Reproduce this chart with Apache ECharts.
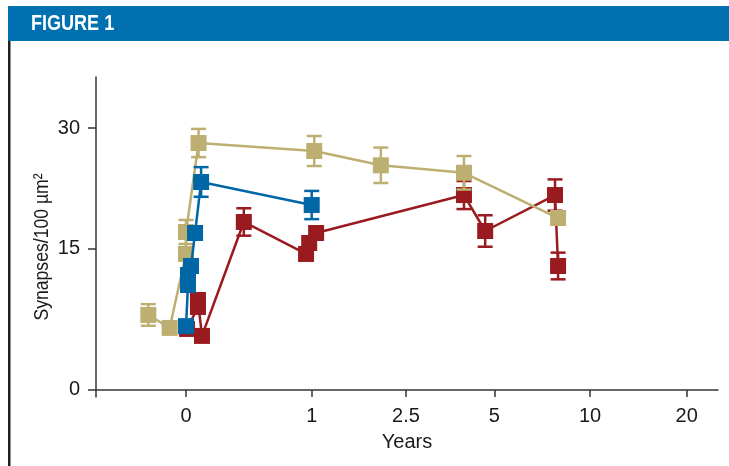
<!DOCTYPE html>
<html>
<head>
<meta charset="utf-8">
<script src="https://cdn.jsdelivr.net/npm/echarts@6/dist/echarts.min.js"></script>
<style>
html,body{margin:0;padding:0;background:#fff;}
#chart{width:729px;height:466px;}
</style>
</head>
<body>
<div id="chart"></div>
<script>
// axis scales: the figure's axes are not linear, so ticks are pinned to positions
var xTickYears = [0, 1, 2.5, 5, 10, 20];
var xTickPos = [0, 1, 1.75, 2.453, 3.214, 3.983];
var yTickVals = [0, 15, 30];
var yTickPos = [0, 1, 1.858];

// tan series
var tanYears = [-0.3, -0.13, 0, 0, 0.1, 1.04, 2.1, 4.14, 8.33];
var tanVals = [7.98, 6.6, 14.47, 17.11, 28.14, 27.15, 25.38, 24.45, 18.84];
var tanErr = [1.15, 0, 0, 1.49, 1.75, 1.86, 2.2, 2.08, 0];

// blue series
var blueYears = [0, 0.016, 0.016, 0.04, 0.072, 0.12, 1.0];
var blueVals = [6.79, 11.17, 12.23, 13.19, 16.98, 23.31, 20.45];
var blueErr = [0, 0, 0, 0, 0, 1.84, 1.75];

// red series
var redYears = [0.008, 0.095, 0.095, 0.127, 0.46, 0.955, 0.98, 1.07, 4.14, 4.74, 8.17, 8.33];
var redVals = [6.49, 8.83, 9.57, 5.75, 18.35, 14.47, 15.74, 16.98, 21.69, 17.23, 21.69, 13.19];
var redErr = [0, 0, 0, 0, 1.7, 0, 0, 0, 1.74, 1.95, 1.94, 1.42];

var tan = '#bdaf72', blue = '#0067a6', red = '#9a1b1f';

function scaleMap(v, ticks, pos) {
    var n = ticks.length, i = 0;
    if (v >= ticks[n - 1]) i = n - 2;
    else if (v > ticks[0]) { while (v > ticks[i + 1]) i++; }
    var t = (v - ticks[i]) / (ticks[i + 1] - ticks[i]);
    return pos[i] + t * (pos[i + 1] - pos[i]);
}
function xPos(v) { return scaleMap(v, xTickYears, xTickPos); }
function yPos(v) { return scaleMap(v, yTickVals, yTickPos); }

function lookup(v, pos, labels) {
    for (var i = 0; i < pos.length; i++) {
        if (Math.abs(pos[i] - v) < 1e-6) return String(labels[i]);
    }
    return '';
}

function points(xs, ys) {
    return xs.map(function (x, i) { return [xPos(x), yPos(ys[i])]; });
}
function errPoints(xs, ys, es) {
    var out = [];
    xs.forEach(function (x, i) {
        if (es[i] > 0) out.push([xPos(x), yPos(ys[i] - es[i]), yPos(ys[i] + es[i])]);
    });
    return out;
}

function errSeries(xs, ys, es, color, z) {
    return {
        type: 'custom',
        z: z,
        silent: true,
        data: errPoints(xs, ys, es),
        renderItem: function (params, api) {
            var lo = api.coord([api.value(0), api.value(1)]);
            var hi = api.coord([api.value(0), api.value(2)]);
            var w = 7.5;
            var st = { stroke: color, lineWidth: 2.5 };
            return {
                type: 'group',
                children: [
                    { type: 'line', shape: { x1: lo[0], y1: lo[1], x2: hi[0], y2: hi[1] }, style: st },
                    { type: 'line', shape: { x1: lo[0] - w, y1: lo[1], x2: lo[0] + w, y2: lo[1] }, style: st },
                    { type: 'line', shape: { x1: hi[0] - w, y1: hi[1], x2: hi[0] + w, y2: hi[1] }, style: st }
                ]
            };
        }
    };
}

function lineSeries(xs, ys, color, z) {
    return {
        type: 'line',
        z: z,
        data: points(xs, ys),
        symbol: 'rect',
        symbolSize: 16,
        showAllSymbol: true,
        lineStyle: { color: color, width: 2.5 },
        itemStyle: { color: color },
        emphasis: { disabled: true }
    };
}

var labelFont = '"Liberation Sans Narrow", "Arial Narrow", "Liberation Sans", sans-serif';

var chart = echarts.init(document.getElementById('chart'));

var option = {
    animation: false,
    backgroundColor: '#fff',
    grid: { left: 96, right: 11, top: 77, bottom: 69 },
    graphic: [
        { type: 'rect', shape: { x: 8, y: 6, width: 721, height: 35 }, style: { fill: '#0070b1' } },
        { type: 'text', x: 31, y: 24, scaleX: 0.82,
          style: { text: 'FIGURE 1', fill: '#fff', font: 'bold 22px ' + labelFont, textVerticalAlign: 'middle' } },
        { type: 'rect', shape: { x: 8, y: 41, width: 2.5, height: 425 }, style: { fill: '#231f20' } },
        { type: 'text', x: 42, y: 247, rotation: Math.PI / 2, scaleX: 0.88,
          style: { text: 'Synapses/100 µm²', fill: '#1a1a1a', font: '20px ' + labelFont, textAlign: 'center', textVerticalAlign: 'middle' } }
    ],
    xAxis: {
        type: 'value',
        min: -0.716,
        max: 4.232,
        name: 'Years',
        nameLocation: 'middle',
        nameGap: 35,
        nameTextStyle: { fontSize: 20, fontFamily: labelFont, color: '#1a1a1a' },
        splitLine: { show: false },
        axisLine: { onZero: true, lineStyle: { color: '#333', width: 1.5 } },
        axisTick: { customValues: xTickPos, length: 7, lineStyle: { color: '#333', width: 1.5 } },
        axisLabel: {
            customValues: xTickPos,
            margin: 9,
            fontSize: 20,
            fontFamily: labelFont,
            color: '#1a1a1a',
            formatter: function (v) { return lookup(v, xTickPos, xTickYears); }
        }
    },
    yAxis: {
        type: 'value',
        min: -0.05,
        max: 2.22,
        splitLine: { show: false },
        axisLine: { show: true, onZero: false, lineStyle: { color: '#333', width: 1.5 } },
        axisTick: { show: true, customValues: yTickPos, length: 8, lineStyle: { color: '#333', width: 1.5 } },
        axisLabel: {
            customValues: yTickPos,
            margin: 16,
            fontSize: 20,
            fontFamily: labelFont,
            color: '#1a1a1a',
            formatter: function (v) { return lookup(v, yTickPos, yTickVals); }
        }
    },
    series: [
        errSeries(redYears, redVals, redErr, red, 1),
        lineSeries(redYears, redVals, red, 2),
        errSeries(tanYears, tanVals, tanErr, tan, 3),
        lineSeries(tanYears, tanVals, tan, 4),
        errSeries(blueYears, blueVals, blueErr, blue, 5),
        lineSeries(blueYears, blueVals, blue, 6)
    ]
};

chart.setOption(option);
</script>
</body>
</html>
